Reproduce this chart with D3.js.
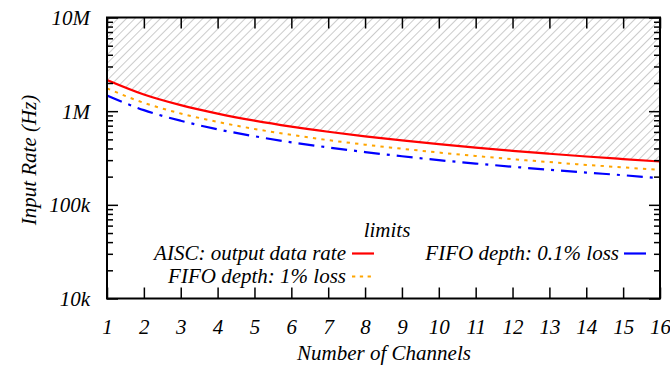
<!DOCTYPE html>
<html>
<head>
<meta charset="utf-8">
<script src="https://cdn.jsdelivr.net/npm/d3@7"></script>
<style>
  html, body { margin: 0; padding: 0; background: #fff; }
  svg text { font-family: "Liberation Serif", "Times New Roman", serif; font-style: italic; font-size: 21px; fill: #000; }
</style>
</head>
<body>
<svg id="chart" width="670" height="365"></svg>
<script>
// Number of readout channels
const channels = [1, 2, 3, 4, 5, 6, 7, 8, 9, 10, 11, 12, 13, 14, 15, 16];
// Maximum input rate (Hz) allowed by the ASIC output data rate
const aiscRate = [2150000, 1506000, 1159000, 942000, 793000, 685000, 603000, 539000,
                  487000, 444000, 408000, 377000, 351000, 328000, 308000, 290000];
// Maximum input rate (Hz) for the FIFO depth at 1% loss
const fifo1Loss = [1752000, 1227000, 945000, 768000, 646000, 558000, 491000, 439000,
                   397000, 362000, 332000, 307000, 286000, 267000, 251000, 236000];
// Maximum input rate (Hz) for the FIFO depth at 0.1% loss
const fifo01Loss = [1470000, 1025000, 790000, 640000, 540000, 465000, 410000, 366000,
                    330000, 300000, 276000, 255000, 237000, 221000, 207000, 192000];

const yMajorTicks = [1e4, 1e5, 1e6, 1e7];
const yTickLabels = ["10k", "100k", "1M", "10M"];
const xTicks = channels;

const seriesNames = ["AISC: output data rate", "FIFO depth: 1% loss", "FIFO depth: 0.1% loss"];
const legendTitle = "limits";
const xTitle = "Number of  Channels";
const yTitle = "Input Rate (Hz)";

const margin = { left: 107, right: 10, top: 17.5, bottom: 66.5 };
const W = 670, H = 365;
const x0 = margin.left, x1 = W - margin.right;
const y0 = margin.top, y1 = H - margin.bottom;

const svg = d3.select("#chart");

const x = d3.scaleLinear().domain([1, 16]).range([x0, x1]);
const y = d3.scaleLog().domain([1e4, 1e7]).range([y1, y0]);

// Diagonal hatch pattern for the region above the ASIC limit
const defs = svg.append("defs");
const hatch = defs.append("pattern")
  .attr("id", "hatch")
  .attr("patternUnits", "userSpaceOnUse")
  .attr("width", 6).attr("height", 6)
  .attr("patternTransform", "rotate(45)");
hatch.append("line")
  .attr("x1", 0).attr("y1", -1).attr("x2", 0).attr("y2", 8)
  .attr("stroke", "#b4b4b4").attr("stroke-width", 1.4);

defs.append("clipPath").attr("id", "plotClip")
  .append("rect").attr("x", x0).attr("y", y0).attr("width", x1 - x0).attr("height", y1 - y0);

const curve = d3.curveMonotoneX;
const excluded = d3.area()
  .x((d, i) => x(channels[i]))
  .y0(y(1e7))
  .y1(d => y(d))
  .curve(curve);

const plot = svg.append("g").attr("clip-path", "url(#plotClip)");
plot.append("path").datum(aiscRate).attr("d", excluded).attr("fill", "url(#hatch)");

// Axes: inward major and minor ticks on all four sides
const yMinor = [];
[1e4, 1e5, 1e6].forEach(dec => { for (let k = 2; k <= 9; k++) yMinor.push(k * dec); });

function clean(g) { g.select(".domain").remove(); g.selectAll("line").attr("stroke", "#000").attr("stroke-width", 1.5); }

svg.append("g").attr("transform", `translate(${x0},0)`)
  .call(d3.axisLeft(y).tickValues(yMajorTicks).tickSize(-11).tickPadding(17)
        .tickFormat((d, i) => yTickLabels[i]))
  .call(clean)
  .call(g => g.selectAll("text").attr("font-size", null).attr("font-family", null).attr("dy", "0.33em"));
svg.append("g").attr("transform", `translate(${x0},0)`)
  .call(d3.axisLeft(y).tickValues(yMinor).tickSize(-6).tickFormat(""))
  .call(clean);
svg.append("g").attr("transform", `translate(${x1},0)`)
  .call(d3.axisRight(y).tickValues(yMajorTicks).tickSize(-11).tickFormat(""))
  .call(clean);
svg.append("g").attr("transform", `translate(${x1},0)`)
  .call(d3.axisRight(y).tickValues(yMinor).tickSize(-6).tickFormat(""))
  .call(clean);

svg.append("g").attr("transform", `translate(0,${y1})`)
  .call(d3.axisBottom(x).tickValues(xTicks).tickSize(-11).tickPadding(35).tickFormat(d3.format("d")))
  .call(clean)
  .call(g => g.selectAll("text").attr("font-size", null).attr("font-family", null).attr("dy", "0"));
svg.append("g").attr("transform", `translate(0,${y0})`)
  .call(d3.axisTop(x).tickValues(xTicks).tickSize(-11).tickFormat(""))
  .call(clean);

// Series
const line = d3.line().x((d, i) => x(channels[i])).y(d => y(d)).curve(curve);
const styles = [
  { data: aiscRate,   color: "#ff0000", width: 2.2, dash: null,       legendDash: null },
  { data: fifo1Loss,  color: "#ffa500", width: 2.0, dash: "3.3,5.2",  legendDash: "3.3,4.5" },
  { data: fifo01Loss, color: "#0000ff", width: 2.2, dash: "16,7,3,7", legendDash: null }
];
styles.forEach(s => {
  plot.append("path").datum(s.data).attr("d", line)
    .attr("fill", "none").attr("stroke", s.color).attr("stroke-width", s.width)
    .attr("stroke-dasharray", s.dash);
});

// Frame
svg.append("rect").attr("x", x0).attr("y", y0).attr("width", x1 - x0).attr("height", y1 - y0)
  .attr("fill", "none").attr("stroke", "#000").attr("stroke-width", 2);

// Legend
const leg = svg.append("g");
leg.append("text").attr("x", 387).attr("y", 237).attr("text-anchor", "middle").text(legendTitle);
const legendItems = [
  { name: seriesNames[0], tx: 346, ty: 260, lx: 352, ly: 253.5, s: styles[0] },
  { name: seriesNames[1], tx: 346, ty: 283, lx: 352, ly: 276.5, s: styles[1] },
  { name: seriesNames[2], tx: 619, ty: 260, lx: 624, ly: 253.5, s: styles[2] }
];
legendItems.forEach(it => {
  leg.append("text").attr("x", it.tx).attr("y", it.ty).attr("text-anchor", "end").text(it.name);
  leg.append("line").attr("x1", it.lx).attr("x2", it.lx + 22).attr("y1", it.ly).attr("y2", it.ly)
    .attr("stroke", it.s.color).attr("stroke-width", it.s.width)
    .attr("stroke-dasharray", it.s.legendDash);
});

// Axis titles
svg.append("text").attr("x", 384).attr("y", 360).attr("text-anchor", "middle").text(xTitle);
svg.append("text").attr("transform", "translate(36,160) rotate(-90)").attr("text-anchor", "middle").text(yTitle);
</script>
</body>
</html>
